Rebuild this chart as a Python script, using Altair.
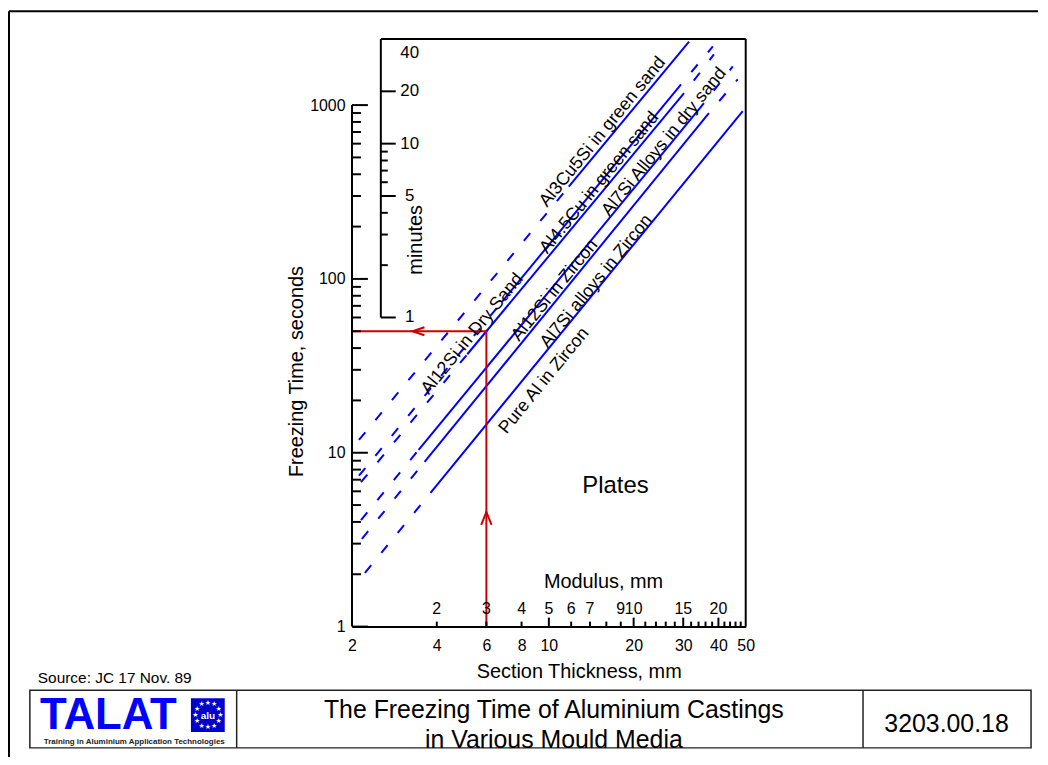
import altair as alt
import pandas as pd
import numpy as np

FONT = "Liberation Sans"
BLUE = "#0000FF"
RED = "#CC0000"

# ---------------- data ----------------
line_names = ["Al3Cu5Si in green sand", "Al4.5Cu in green sand", "Al12Si in dry sand",
              "Al7Si alloys in dry sand", "Al12Si in zircon", "Al7Si alloys in zircon"]
# section thickness (mm) / freezing time (s) of segment end points
dash_start_T = [2.117, 2.117, 2.152, 2.152, 2.169, 2.223]
dash_start_t = [11.85, 7.375, 6.77, 4.10, 3.20, 2.04]
solid_start_T = [11.77, 6.824, 5.134, 3.448, 3.62, 3.80]
solid_start_t = [339.4, 74.05, 36.87, 10.38, 8.86, 5.88]
solid_end_T = [31.46, 29.47, 30.2, 35.54, 37.0, 48.8]
solid_end_t = [2321, 1317, 1170, 1025, 898.6, 922.6]
tail_end_T = [None, 38.22, 38.55, 44.98, 46.84, None]
tail_end_t = [None, 2174, 1956, 1670, 1407, None]

label_texts = ["Al3Cu5Si in green sand", "Al4.5Cu in green sand", "Al7Si Alloys in dry sand",
               "Al12Si in Dry Sand", "Al12Si in Zircon", "Al7Si alloys in Zircon", "Pure Al in Zircon"]
label_T = [15.53, 15.11, 25.66, 5.35, 10.5, 14.76, 9.62]
label_t = [699.8, 357, 613, 48.2, 86.0, 96.9, 25.9]

red_T = 6
red_t = 50
arrow_up_T, arrow_up_t = 6, 4.57
arrow_left_T, arrow_left_t = 3.28, 50

thick_labels = [2, 4, 6, 8, 10, 20, 30, 40, 50]
y_labels = [1, 10, 100, 1000]
y_minor = [2, 3, 4, 5, 6, 7, 8, 9, 20, 30, 40, 50, 60, 70, 80, 90,
           200, 300, 400, 500, 600, 700, 800, 900]
mod_major = [5, 10, 15, 20]
mod_minor = [2, 3, 4, 6, 7, 8, 9, 11, 12, 13, 14, 16, 17, 18, 19, 21, 22, 23, 24]
mod_labels = [2, 3, 4, 5, 6, 7, 9, 10, 15, 20]
min_major = [1, 5, 10, 20]
min_minor = [2, 3, 4, 6, 7, 8, 9]
min_labels = [1, 5, 10, 20]
min_top_label = 40

# ---------------- layout ----------------
W, H = 396, 591
xs = alt.Scale(type="log", domain=[2, 50], nice=False)
ys = alt.Scale(type="log", domain=[1, 2400], nice=False)


def qx(f="T", axis=None):
    return alt.X(f"{f}:Q", scale=xs, axis=axis)


def qy(f="t", axis=None):
    return alt.Y(f"{f}:Q", scale=ys, axis=axis)


one = pd.DataFrame({"k": [0]})

solid_rows, lead_rows, tail_rows = [], [], []
for i, nm in enumerate(line_names):
    lead_rows += [{"line": nm, "T": dash_start_T[i], "t": dash_start_t[i]},
                  {"line": nm, "T": solid_start_T[i], "t": solid_start_t[i]}]
    solid_rows += [{"line": nm, "T": solid_start_T[i], "t": solid_start_t[i]},
                   {"line": nm, "T": solid_end_T[i], "t": solid_end_t[i]}]
    if tail_end_T[i] is not None:
        tail_rows += [{"line": nm, "T": solid_end_T[i], "t": solid_end_t[i]},
                      {"line": nm, "T": tail_end_T[i], "t": tail_end_t[i]}]

x_axis = alt.Axis(values=thick_labels, format="~g", ticks=False, grid=False,
                  domain=True, domainColor="black", domainWidth=2,
                  labelFontSize=16, labelPadding=11, labelOverlap=False, labelFlush=False,
                  labelColor="black",
                  title="Section Thickness, mm", titleFontSize=20, titleFontWeight="normal",
                  titleColor="black",
                  titleX=228, titleY=45, titleBaseline="middle", titleAlign="center")
y_axis = alt.Axis(values=y_labels, format="~g", ticks=False, grid=False, domain=False,
                  labelFontSize=16, labelPadding=7, labelOverlap=False, labelFlush=False,
                  labelColor="black",
                  title="Freezing Time, seconds", titleFontSize=20, titleFontWeight="normal",
                  titleColor="black",
                  titleX=-56, titleY=334, titleAngle=270, titleAlign="center",
                  titleBaseline="middle")

layers = []
# curves
layers.append(alt.Chart(pd.DataFrame(solid_rows)).mark_line(color=BLUE, strokeWidth=2).encode(
    x=qx(axis=x_axis), y=qy(axis=y_axis), detail="line:N"))
layers.append(alt.Chart(pd.DataFrame(lead_rows)).mark_line(
    color=BLUE, strokeWidth=2, strokeDash=[10, 16]).encode(x=qx(), y=qy(), detail="line:N"))
layers.append(alt.Chart(pd.DataFrame(tail_rows)).mark_line(
    color=BLUE, strokeWidth=2, strokeDash=[10, 16], strokeDashOffset=10).encode(
    x=qx(), y=qy(), detail="line:N"))

# red construction lines
layers.append(alt.Chart(pd.DataFrame({"T": [red_T], "t0": [1], "t": [red_t]})).mark_rule(
    color=RED, strokeWidth=2).encode(x=qx(), y=qy("t0"), y2=alt.Y2("t")))
layers.append(alt.Chart(pd.DataFrame({"T0": [2], "T": [red_T], "t": [red_t]})).mark_rule(
    color=RED, strokeWidth=2).encode(x=qx("T0"), x2=alt.X2("T"), y=qy()))
layers.append(alt.Chart(pd.DataFrame({"T": [arrow_up_T], "t": [arrow_up_t]})).mark_point(
    shape="M -0.4 1 L 0 0 L 0.4 1", size=676, filled=False, strokeWidth=2, color=RED,
    opacity=1).encode(x=qx(), y=qy()))
layers.append(alt.Chart(pd.DataFrame({"T": [arrow_left_T], "t": [arrow_left_t]})).mark_point(
    shape="M 1 -0.33 L 0 0 L 1 0.33", size=576, filled=False, strokeWidth=2, color=RED,
    opacity=1).encode(x=qx(), y=qy()))

# left axis: line and inward ticks
layers.append(alt.Chart(pd.DataFrame({"t0": [1], "t1": [1000]})).mark_rule(
    color="black", strokeWidth=2).encode(x=alt.value(0), y=qy("t0"), y2=alt.Y2("t1")))
layers.append(alt.Chart(pd.DataFrame({"t": y_labels})).mark_rule(
    color="black", strokeWidth=2).encode(y=qy(), x=alt.value(0), x2=alt.value(16)))
layers.append(alt.Chart(pd.DataFrame({"t": y_minor})).mark_rule(
    color="black", strokeWidth=2).encode(y=qy(), x=alt.value(0), x2=alt.value(9)))

# minutes axis
layers.append(alt.Chart(pd.DataFrame({"t0": [60], "t1": [2400]})).mark_rule(
    color="black", strokeWidth=2).encode(x=alt.value(29), y=qy("t0"), y2=alt.Y2("t1")))
layers.append(alt.Chart(pd.DataFrame({"t": [m * 60 for m in min_major]})).mark_rule(
    color="black", strokeWidth=2).encode(y=qy(), x=alt.value(29), x2=alt.value(44)))
layers.append(alt.Chart(pd.DataFrame({"t": [m * 60 for m in min_minor]})).mark_rule(
    color="black", strokeWidth=2).encode(y=qy(), x=alt.value(29), x2=alt.value(36)))
layers.append(alt.Chart(pd.DataFrame({"t": [m * 60 for m in min_labels],
                                      "lab": [str(m) for m in min_labels]})).mark_text(
    fontSize=17, align="center", baseline="middle", color="black").encode(
    x=alt.value(58), y=qy(), text="lab:N"))
layers.append(alt.Chart(pd.DataFrame({"t": [min_top_label * 60], "lab": [str(min_top_label)]})).mark_text(
    fontSize=17, align="center", baseline="top", dy=6, color="black").encode(
    x=alt.value(58), y=qy(), text="lab:N"))
layers.append(alt.Chart(one).mark_text(text="minutes", angle=270, fontSize=20, color="black",
                                       align="center", baseline="middle").encode(
    x=alt.value(64), y=alt.value(202)))

# frame top / right
layers.append(alt.Chart(one).mark_rule(color="black", strokeWidth=2).encode(
    x=alt.value(29), x2=alt.value(W), y=alt.value(0)))
layers.append(alt.Chart(one).mark_rule(color="black", strokeWidth=2).encode(
    x=alt.value(W), y=alt.value(0), y2=alt.value(H)))

# modulus scale (inside, along the bottom axis)
layers.append(alt.Chart(pd.DataFrame({"T": [2 * m for m in mod_major]})).mark_rule(
    color="black", strokeWidth=2).encode(x=qx(), y=alt.value(H), y2=alt.value(H - 9)))
layers.append(alt.Chart(pd.DataFrame({"T": [2 * m for m in mod_minor]})).mark_rule(
    color="black", strokeWidth=2).encode(x=qx(), y=alt.value(H), y2=alt.value(H - 5)))
layers.append(alt.Chart(pd.DataFrame({"T": [2 * m for m in mod_labels],
                                      "lab": [str(m) for m in mod_labels]})).mark_text(
    fontSize=16, align="center", baseline="middle", color="black").encode(
    x=qx(), y=alt.value(H - 18), text="lab:N"))
layers.append(alt.Chart(one).mark_text(text="Modulus, mm", fontSize=20, color="black",
                                       align="center", baseline="middle").encode(
    x=alt.value(253), y=alt.value(546)))

# curve labels
layers.append(alt.Chart(pd.DataFrame({"T": label_T, "t": label_t, "lab": label_texts})).mark_text(
    angle=309.3, fontSize=18, align="center", baseline="middle", color="black").encode(
    x=qx(), y=qy(), text="lab:N"))
layers.append(alt.Chart(one).mark_text(text="Plates", fontSize=24, color="black",
                                       align="center", baseline="middle").encode(
    x=alt.value(265), y=alt.value(450)))

# ---------------- page frame & footer ----------------
layers.append(alt.Chart(one).mark_rule(color="black", strokeWidth=2).encode(
    x=alt.value(-345), x2=alt.value(690), y=alt.value(-28)))
layers.append(alt.Chart(one).mark_rule(color="black", strokeWidth=2).encode(
    x=alt.value(-345), y=alt.value(-28), y2=alt.value(740)))
layers.append(alt.Chart(one).mark_text(text="Source: JC 17 Nov. 89", fontSize=15.5, color="black",
                                       align="left", baseline="middle").encode(
    x=alt.value(-316), y=alt.value(643)))
layers.append(alt.Chart(one).mark_rect(fillOpacity=0, stroke="#222222", strokeWidth=1.5).encode(
    x=alt.value(-324), x2=alt.value(683), y=alt.value(655), y2=alt.value(713)))
layers.append(alt.Chart(one).mark_rule(color="#222222", strokeWidth=1.5).encode(
    x=alt.value(-116), y=alt.value(655), y2=alt.value(713)))
layers.append(alt.Chart(one).mark_rule(color="#222222", strokeWidth=1.5).encode(
    x=alt.value(514), y=alt.value(655), y2=alt.value(713)))
layers.append(alt.Chart(one).mark_text(text="TALAT", fontSize=44, fontWeight="bold", color=BLUE,
                                       align="center", baseline="middle").encode(
    x=alt.value(-245), y=alt.value(681)))
layers.append(alt.Chart(one).mark_rect(color="#0000CC").encode(
    x=alt.value(-162), x2=alt.value(-128), y=alt.value(663), y2=alt.value(697)))
ang = np.arange(12) * np.pi / 6
stars = pd.DataFrame({"sx": -145 + 12.5 * np.sin(ang), "sy": 680 - 12.5 * np.cos(ang)})
layers.append(alt.Chart(stars).mark_text(text="★", fontSize=7, color="white", font="DejaVu Sans",
                                         align="center", baseline="middle").encode(
    x=alt.X("sx:Q", scale=None), y=alt.Y("sy:Q", scale=None)))
layers.append(alt.Chart(one).mark_text(text="alu", fontSize=10, fontWeight="bold", color="white",
                                       align="center", baseline="middle").encode(
    x=alt.value(-145), y=alt.value(681)))
layers.append(alt.Chart(one).mark_text(text="Training in Aluminium Application Technologies",
                                       fontSize=8, fontWeight="bold", color="#222222",
                                       align="center", baseline="middle").encode(
    x=alt.value(-219), y=alt.value(707)))
layers.append(alt.Chart(one).mark_text(text="The Freezing Time of Aluminium Castings", fontSize=25,
                                       color="black", align="center", baseline="middle").encode(
    x=alt.value(203), y=alt.value(675)))
layers.append(alt.Chart(one).mark_text(text="in Various Mould Media", fontSize=25,
                                       color="black", align="center", baseline="middle").encode(
    x=alt.value(203), y=alt.value(705)))
layers.append(alt.Chart(one).mark_text(text="3203.00.18", fontSize=25,
                                       color="black", align="center", baseline="middle").encode(
    x=alt.value(598), y=alt.value(689)))

chart = alt.layer(*layers).resolve_axis(x="independent", y="independent").properties(
    width=W, height=H,
    autosize=alt.AutoSizeParams(type="none"),
    padding={"left": 346, "top": 29, "right": 296, "bottom": 129},
).configure(font=FONT).configure_view(strokeWidth=0).configure_axis(grid=False)

chart.save("out.html", embed_options={"renderer": "svg", "actions": False})
